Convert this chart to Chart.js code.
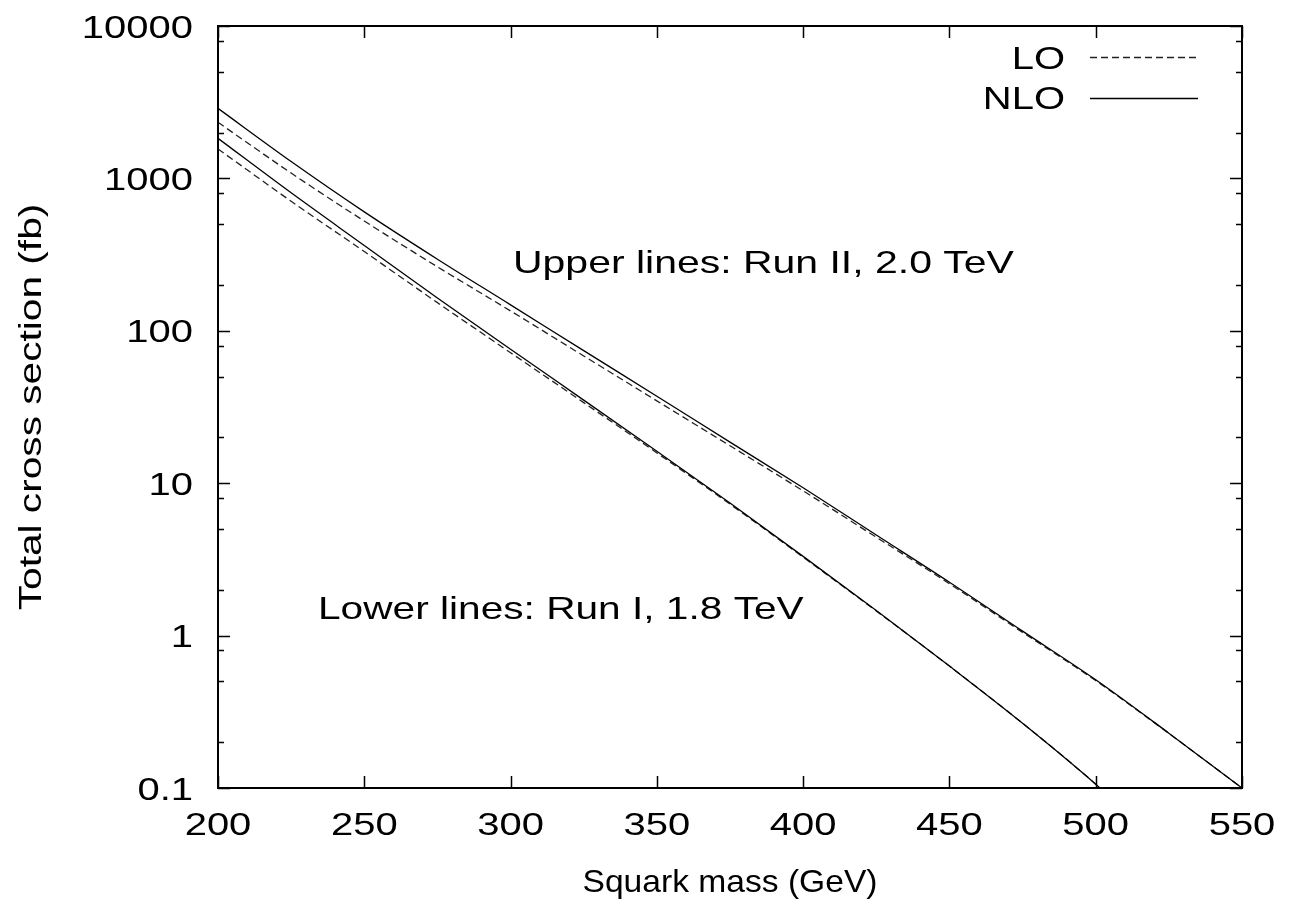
<!DOCTYPE html>
<html>
<head>
<meta charset="utf-8">
<script src="https://cdn.jsdelivr.net/npm/chart.js@4.4.1/dist/chart.umd.min.js"></script>
<style>
  html, body { margin: 0; padding: 0; background: #fff; }
  #caja { width: 1290px; height: 909px; }
</style>
</head>
<body>
<div id="caja"><canvas id="grafica"></canvas></div>
<script>
// masas (GeV)
var masaRunII = [200, 225, 250, 275, 300, 325, 350, 375, 400, 425, 450, 475, 500, 525, 550];
var masaRunI = [200, 225, 250, 275, 300, 325, 350, 375, 400, 425, 450, 475, 500, 510];

// secciones eficaces (fb)
var nloRunII = [2880, 1290, 603, 295, 148, 74.1, 37.2, 18.6, 9.33, 4.57, 2.24, 1.07, 0.513, 0.229, 0.100];
var loRunII = [2333, 1084, 525, 263, 135, 68.4, 34.7, 17.6, 8.91, 4.42, 2.19, 1.05, 0.507, 0.228, 0.100];
var nloRunI = [1832, 804, 363, 164, 75.7, 35.1, 16.2, 7.41, 3.31, 1.46, 0.631, 0.266, 0.106, 0.0708];
var loRunI = [1560, 708, 331, 153, 71.8, 33.8, 15.8, 7.29, 3.27, 1.45, 0.631, 0.266, 0.106, 0.0708];

// ticks
var ticksMasa = [200, 250, 300, 350, 400, 450, 500, 550];
var ticksSigma = [0.1, 1, 10, 100, 1000, 10000];
var etiquetasSigma = ['0.1', '1', '10', '100', '1000', '10000'];
var pasosMenores = [2, 5, 8];

var colorNegro = "#000";
var fuente = "'Liberation Sans', Arial, Helvetica, sans-serif";
var estirar = 1.25; // el texto original sale ensanchado

function puntos(xs, ys) {
    return xs.map(function (x, i) { return { x: x, y: ys[i] }; });
}

function linea(etiqueta, xs, ys, discontinua) {
    return {
        label: etiqueta,
        data: puntos(xs, ys),
        borderColor: discontinua ? "#222" : colorNegro,
        borderWidth: 1.3,
        borderDash: discontinua ? [7, 4] : [],
        pointRadius: 0,
        cubicInterpolationMode: 'monotone',
        fill: false
    };
}

function texto(ctx, str, x, y, alinear, sx, rot) {
    ctx.save();
    ctx.translate(x, y);
    if (rot) ctx.rotate(rot);
    ctx.scale(sx, 1);
    ctx.textAlign = alinear;
    ctx.textBaseline = 'alphabetic';
    ctx.fillText(str, 0, 0);
    ctx.restore();
}

// marco, ticks hacia dentro, etiquetas y leyenda al estilo gnuplot
var estiloGnuplot = {
    id: 'estiloGnuplot',
    afterDraw: function (chart) {
        var ctx = chart.ctx;
        var a = chart.chartArea;
        var ex = chart.scales.x;
        var ey = chart.scales.y;
        ctx.save();
        ctx.strokeStyle = colorNegro;
        ctx.fillStyle = colorNegro;

        // ticks eje x
        ctx.lineWidth = 1.5;
        ctx.beginPath();
        ticksMasa.forEach(function (m) {
            var px = Math.round(ex.getPixelForValue(m)) + 0.5;
            ctx.moveTo(px, a.bottom); ctx.lineTo(px, a.bottom - 12);
            ctx.moveTo(px, a.top); ctx.lineTo(px, a.top + 12);
        });
        // ticks eje y
        ticksSigma.forEach(function (v, i) {
            var py = Math.round(ey.getPixelForValue(v)) + 0.5;
            ctx.moveTo(a.left, py); ctx.lineTo(a.left + 12, py);
            ctx.moveTo(a.right, py); ctx.lineTo(a.right - 12, py);
            if (i < ticksSigma.length - 1) {
                pasosMenores.forEach(function (p) {
                    var pm = Math.round(ey.getPixelForValue(v * p)) + 0.5;
                    ctx.moveTo(a.left, pm); ctx.lineTo(a.left + 6, pm);
                    ctx.moveTo(a.right, pm); ctx.lineTo(a.right - 6, pm);
                });
            }
        });
        ctx.stroke();

        // marco
        ctx.lineWidth = 2;
        ctx.strokeRect(a.left, a.top, a.right - a.left, a.bottom - a.top);

        // etiquetas de los ticks
        ctx.font = "32px " + fuente;
        ticksMasa.forEach(function (m) {
            texto(ctx, String(m), ex.getPixelForValue(m), 835, 'center', estirar);
        });
        ticksSigma.forEach(function (v, i) {
            texto(ctx, etiquetasSigma[i], 193, ey.getPixelForValue(v) + 11.5, 'right', estirar);
        });

        // titulos de ejes
        texto(ctx, 'Squark mass (GeV)', (a.left + a.right) / 2, 892, 'center', 1.05);
        texto(ctx, 'Total cross section (fb)', 41, (a.top + a.bottom) / 2, 'center', 1.27, -Math.PI / 2);

        // anotaciones
        texto(ctx, 'Upper lines: Run II, 2.0 TeV', 513, 273, 'left', 1.28);
        texto(ctx, 'Lower lines: Run I, 1.8 TeV', 318, 619, 'left', 1.27);

        // leyenda
        texto(ctx, 'LO', 1065, 69, 'right', estirar);
        texto(ctx, 'NLO', 1065, 109, 'right', estirar);
        ctx.lineWidth = 1.3;
        ctx.strokeStyle = "#222";
        ctx.setLineDash([7, 4]);
        ctx.beginPath(); ctx.moveTo(1090, 57.5); ctx.lineTo(1198, 57.5); ctx.stroke();
        ctx.setLineDash([]);
        ctx.strokeStyle = colorNegro;
        ctx.beginPath(); ctx.moveTo(1090, 98.5); ctx.lineTo(1198, 98.5); ctx.stroke();
        ctx.restore();
    }
};

var configuracion = {
    type: 'line',
    data: {
        datasets: [
            linea('NLO Run II', masaRunII, nloRunII, false),
            linea('LO Run II', masaRunII, loRunII, true),
            linea('NLO Run I', masaRunI, nloRunI, false),
            linea('LO Run I', masaRunI, loRunI, true)
        ]
    },
    options: {
        responsive: true,
        maintainAspectRatio: false,
        animation: false,
        layout: { padding: { left: 218, right: 48, top: 26, bottom: 121 } },
        plugins: {
            legend: { display: false },
            tooltip: { enabled: false }
        },
        scales: {
            x: {
                type: 'linear',
                min: 200,
                max: 550,
                ticks: { display: false },
                grid: { display: false },
                border: { display: false },
                afterFit: function (escala) { escala.height = 0; }
            },
            y: {
                type: 'logarithmic',
                min: 0.1,
                max: 10000,
                ticks: { display: false },
                grid: { display: false },
                border: { display: false },
                afterFit: function (escala) { escala.width = 0; }
            }
        }
    },
    plugins: [estiloGnuplot]
};

var graficaSquark = new Chart(document.getElementById('grafica'), configuracion);
</script>
</body>
</html>
